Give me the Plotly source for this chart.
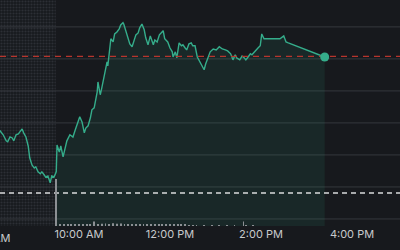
import plotly.graph_objects as go
import pandas as pd

DAY = "2024-03-15"

# Pre-market price path (time, price)
pre_times = ["08:10", "08:16", "08:20", "08:24", "08:26", "08:29", "08:32", "08:34", "08:37", "08:40",
             "08:42", "08:45", "08:47", "08:50", "08:53", "08:55", "08:58", "09:01", "09:03",
             "09:06", "09:09", "09:11", "09:14", "09:16", "09:19", "09:22", "09:24", "09:27", "09:30"]
pre_prices = [102.70, 102.75, 102.63, 102.44, 102.41, 102.56, 102.53, 102.44, 102.63, 102.66,
              102.72, 102.81, 102.69, 102.56, 102.28, 101.91, 101.69, 101.59, 101.63,
              101.47, 101.41, 101.47, 101.38, 101.31, 101.34, 101.13, 101.34, 101.31, 101.47]

# Regular session price path
reg_times = ["09:30", "09:31", "09:34", "09:36", "09:39", "09:42", "09:44", "09:48", "09:52", "09:55",
             "09:57", "10:01", "10:04", "10:07", "10:09", "10:12", "10:15", "10:17", "10:20", "10:22",
             "10:24", "10:25", "10:28", "10:30", "10:32", "10:34", "10:37", "10:38", "10:41", "10:42",
             "10:45", "10:47", "10:50", "10:53", "10:55", "10:58", "10:59", "11:02", "11:05", "11:07",
             "11:10", "11:13", "11:15", "11:18", "11:20", "11:23", "11:26", "11:28", "11:31", "11:34",
             "11:36", "11:38", "11:40", "11:43", "11:46", "11:48", "11:51", "11:53", "11:57", "12:00",
             "12:03", "12:04", "12:07", "12:09", "12:12", "12:15", "12:17", "12:20", "12:22", "12:25",
             "12:28", "12:30", "12:33", "12:36", "12:40", "12:42", "12:45", "12:47", "12:50", "12:53",
             "12:57", "13:01", "13:05", "13:09", "13:13", "13:16", "13:20", "13:23", "13:26", "13:28",
             "13:32", "13:35", "13:38", "13:40", "13:43", "13:46", "13:48", "13:52", "13:56", "13:59",
             "14:00", "14:01", "14:04", "14:09", "14:17", "14:25", "14:30", "14:33", "14:36", "15:24"]
reg_prices = [101.47, 102.31, 102.09, 102.28, 101.94, 102.19, 102.44, 102.63, 102.56, 102.78,
              102.91, 103.19, 103.03, 102.69, 102.84, 102.91, 103.16, 103.41, 103.47, 103.69,
              103.97, 104.28, 103.88, 104.09, 104.34, 104.50, 104.91, 104.78, 105.44, 105.63,
              105.53, 105.78, 105.84, 105.94, 106.06, 106.13, 106.09, 105.84, 105.59, 105.47,
              105.38, 105.59, 105.75, 105.81, 105.97, 106.09, 105.91, 105.66, 105.44, 105.72,
              105.59, 105.44, 105.59, 105.53, 105.75, 105.81, 105.88, 105.63, 105.53, 105.34,
              105.22, 105.06, 105.22, 105.03, 105.50, 105.41, 105.44, 105.34, 105.28, 105.47,
              105.50, 105.41, 105.41, 105.06, 104.88, 104.78, 104.66, 104.84, 105.03, 105.22,
              105.31, 105.28, 105.38, 105.31, 105.28, 105.25, 105.16, 104.97, 105.13, 105.03,
              104.97, 105.09, 105.03, 104.97, 105.06, 105.16, 105.13, 105.25, 105.34, 105.41,
              105.59, 105.78, 105.63, 105.63, 105.63, 105.63, 105.72, 105.53, 105.50, 105.06]

# Volume (thousands of shares) per 5 minutes
vol_times = ["09:30", "09:35", "09:40", "09:45", "09:50", "09:55", "10:00", "10:05", "10:10", "10:15",
             "10:20", "10:25", "10:30", "10:35", "10:40", "10:45", "10:50", "10:55", "11:00", "11:05",
             "11:10", "11:15", "11:20", "11:25", "11:30", "11:35", "11:40", "11:45", "11:50", "11:55",
             "12:00", "12:05", "12:10", "12:15", "12:20", "12:25", "12:30", "12:35", "12:45", "12:55",
             "13:05", "13:15", "13:25", "13:37", "13:40", "13:50"]
vol_values = [940, 40, 30, 35, 25, 30, 28, 30, 25, 30,
              90, 35, 45, 50, 40, 55, 45, 50, 40, 35,
              40, 30, 35, 25, 30, 28, 30, 25, 35, 30,
              25, 30, 28, 22, 25, 20, 18, 20, 15, 18,
              15, 20, 15, 90, 20, 15]

alert_level = 105.08
prev_close = 100.81
grid_prices = [100, 101, 102, 103, 104, 105, 106]
x_tick_times = ["10:00", "12:00", "14:00", "16:00"]
x_tick_labels = ["10:00 AM", "12:00 PM", "2:00 PM", "4:00 PM"]
offscreen_tick_label = "8:00 AM"

BG = "#17191d"
GREEN = "#35ad8b"


def ts(t):
    return pd.Timestamp(f"{DAY} {t}")


x_start, x_end = ts("08:15:49"), ts("17:03:18")
y_lo, y_hi = 99.78, 106.84

fig = go.Figure()

# pre-market dotted zone (bars are drawn beneath all line traces)
pm_a, pm_b = ts("08:00"), ts("09:29:20")
fig.add_trace(go.Bar(
    x=[pm_a + (pm_b - pm_a) / 2], y=[y_hi - y_lo + 1], base=[y_lo - 0.5],
    width=[(pm_b - pm_a).total_seconds() * 1000],
    marker=dict(color=BG, line=dict(width=0),
                pattern=dict(shape=".", fgcolor="#2c2f35", bgcolor=BG,
                             size=3, solidity=0.4, fillmode="replace")),
    hoverinfo="skip", showlegend=False))

# horizontal grid lines (drawn as line segments so they sit above the dotted zone)
gx, gy = [], []
for p in grid_prices:
    gx += [x_start, x_end, None]
    gy += [p, p, None]
fig.add_trace(go.Scatter(x=gx, y=gy, mode="lines", line=dict(color="#35383d", width=1),
                         hoverinfo="skip", showlegend=False))

reg_x = [ts(t) for t in reg_times]
# baseline for the fill
fig.add_trace(go.Scatter(x=reg_x, y=[y_lo - 0.5] * len(reg_x), mode="lines",
                         line=dict(width=0, color=GREEN), hoverinfo="skip", showlegend=False))
fig.add_trace(go.Scatter(
    x=reg_x, y=reg_prices, mode="lines", line=dict(color=GREEN, width=1.4),
    fill="tonexty", fillcolor="rgba(53,173,139,0.10)", showlegend=False))
fig.add_trace(go.Scatter(
    x=[ts(t) for t in pre_times], y=pre_prices, mode="lines",
    line=dict(color=GREEN, width=1.4), showlegend=False))

# reference levels
fig.add_trace(go.Scatter(x=[x_start, x_end], y=[prev_close, prev_close], mode="lines",
                         line=dict(color="#d9dadc", width=1.4, dash="5px,4px"),
                         hoverinfo="skip", showlegend=False))
fig.add_trace(go.Scatter(x=[x_start, x_end], y=[alert_level, alert_level], mode="lines",
                         line=dict(color="#b8352d", width=1.4, dash="6px,5px"),
                         hoverinfo="skip", showlegend=False))
# last price dot
fig.add_trace(go.Scatter(x=[reg_x[-1]], y=[reg_prices[-1]], mode="markers",
                         marker=dict(color=GREEN, size=9, line=dict(width=0)),
                         showlegend=False))

# volume
fig.add_trace(go.Bar(x=[ts(t) for t in vol_times], y=vol_values, yaxis="y2",
                     width=70000, marker=dict(color="#8c8f93", line=dict(width=0)),
                     showlegend=False))

fig.update_layout(
    width=400, height=250,
    margin=dict(l=0, r=0, t=0, b=24),
    paper_bgcolor=BG, plot_bgcolor=BG,
    barmode="overlay",
    xaxis=dict(type="date", range=[x_start, x_end], showgrid=False, zeroline=False,
               showline=False, ticks="",
               tickvals=[ts(t) for t in x_tick_times], ticktext=x_tick_labels,
               tickfont=dict(family="Inter", size=11, color="#c7c9cc")),
    yaxis=dict(range=[y_lo, y_hi], showticklabels=False,
               showgrid=False, zeroline=False, ticks=""),
    yaxis2=dict(overlaying="y", range=[0, 4520], showgrid=False, showticklabels=False,
                zeroline=False, ticks=""),
    annotations=[dict(text=offscreen_tick_label, xref="paper", yref="paper",
                      x=-12 / 400, y=0, xanchor="center", yanchor="middle", yshift=-12,
                      showarrow=False, font=dict(family="Inter", size=11, color="#c7c9cc"))],
)

fig.write_html("out.html")
